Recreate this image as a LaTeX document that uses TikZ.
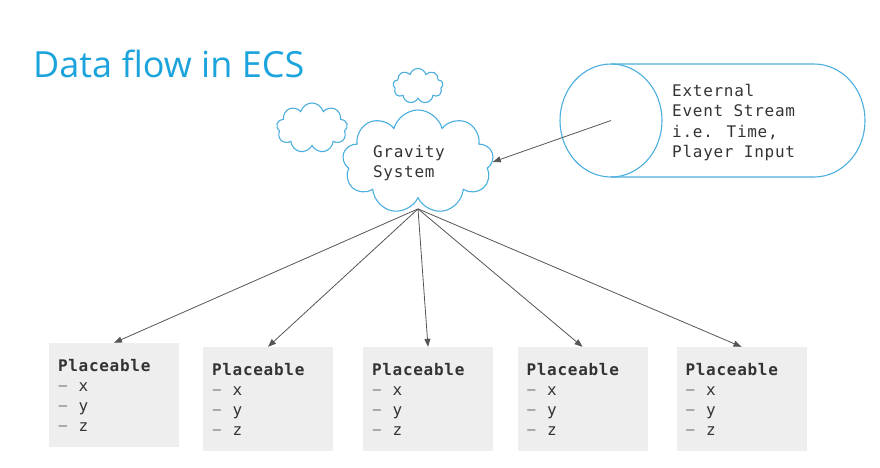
\documentclass[tikz,border=0pt]{standalone}
\usepackage{fontspec}
\setmainfont{Open Sans}
\newfontfamily\codefont[LetterSpace=4.5]{DejaVu Sans Mono}
\usetikzlibrary{arrows.meta,shapes}

\definecolor{ecsblue}{HTML}{1BA3DC}
\definecolor{cloudblue}{HTML}{4AAEDF}
\definecolor{boxgray}{HTML}{EEEEEE}
\definecolor{inkgray}{HTML}{333333}
\definecolor{dashgray}{HTML}{8A8A8A}
\definecolor{arrowgray}{HTML}{555555}

\tikzset{
  puff/.style={draw=cloudblue,line width=1.1pt,cloud,cloud puffs=9,inner sep=0pt},
  code/.style={font=\codefont\fontsize{16}{20.5}\selectfont,text=inkgray,align=left,inner sep=0pt},
  comp/.style={fill=boxgray,minimum width=130pt,minimum height=104pt,text width=112pt,
    inner xsep=9pt,inner ysep=0pt,align=left,font=\codefont\fontsize{16}{20}\selectfont,text=inkgray},
  flow/.style={-{Triangle[length=8pt,width=6pt]},draw=arrowgray,line width=0.8pt},
}
\newcommand{\field}[1]{\makebox[20.6pt][l]{\textcolor{dashgray}{−}}#1}

\begin{document}
\begin{tikzpicture}[x=1pt,y=-1pt]
\useasboundingbox (0,0) rectangle (880,468);
\node[anchor=base west,inner sep=0pt,text=ecsblue,font=\fontsize{36}{40}\selectfont] (title) at (33,78) {Data flow in ECS};

% clouds
\node[puff,minimum width=71pt,minimum height=50pt] (puffa) at (312,128) {};
\node[puff,minimum width=50pt,minimum height=35pt] (puffb) at (418,86) {};
\node[puff,minimum width=151pt,minimum height=104pt] (gravity) at (418,162) {};
\node[code] (gravitytext) at (409,163) {Gravity\\System};

% event stream
\draw[cloudblue,line width=1.1pt] (611,64) -- (814,64) arc[start angle=-90,end angle=90,x radius=51,y radius=56.5] -- (611,177);
\node[draw=cloudblue,line width=1.1pt,ellipse,minimum width=102pt,minimum height=113pt,inner sep=0pt] (stream) at (611,120.5) {};
\node[code,anchor=west] (streamtext) at (672,122.5) {External\\Event Stream\\i.e. Time,\\Player Input};
\draw[flow] (stream.center) -- (gravity.east);

% components
\node[comp] (place1) at (114,395) {\textbf{Placeable}\\\field{x}\\\field{y}\\\field{z}};
\node[comp] (place2) at (268,399) {\textbf{Placeable}\\\field{x}\\\field{y}\\\field{z}};
\node[comp] (place3) at (428,399) {\textbf{Placeable}\\\field{x}\\\field{y}\\\field{z}};
\node[comp] (place4) at (582.5,399) {\textbf{Placeable}\\\field{x}\\\field{y}\\\field{z}};
\node[comp] (place5) at (741.5,399) {\textbf{Placeable}\\\field{x}\\\field{y}\\\field{z}};

\coordinate (hub) at ([yshift=-10pt]gravity.south);
\foreach \i in {1,...,5}
  \draw[flow] (hub) -- (place\i.north);
\end{tikzpicture}
\end{document}
